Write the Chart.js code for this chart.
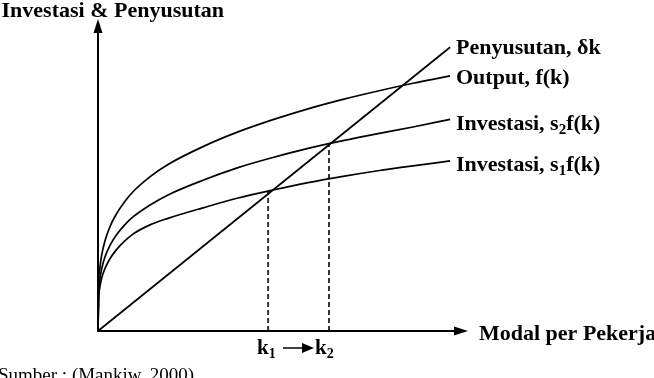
<!DOCTYPE html>
<html>
<head>
<meta charset="utf-8">
<script src="https://cdn.jsdelivr.net/npm/chart.js@4"></script>
<style>
  html, body { margin: 0; padding: 0; background: #fff; }
  canvas { display: block; }
</style>
</head>
<body>
<canvas id="grafik" width="654" height="378"></canvas>
<script>
// modal per pekerja (k) dan nilai kurva
const kVals = [0, 0.02, 0.05, 0.1, 0.2, 0.35, 0.5, 0.75, 1, 1.5, 2, 3, 4, 5, 6, 7, 8, 9, 10.06];
const outputVals = [0, 1.39, 1.77, 2.14, 2.58, 3.0, 3.30, 3.68, 3.98, 4.42, 4.76, 5.27, 5.69, 6.04, 6.35, 6.62, 6.86, 7.08, 7.29];
const invest2Vals = [0, 1.14, 1.45, 1.75, 2.12, 2.46, 2.71, 3.02, 3.26, 3.61, 3.89, 4.31, 4.67, 4.96, 5.22, 5.44, 5.64, 5.83, 6.05];
const invest1Vals = [0, 0.97, 1.23, 1.49, 1.79, 2.08, 2.29, 2.56, 2.77, 3.04, 3.22, 3.52, 3.80, 4.03, 4.24, 4.42, 4.58, 4.72, 4.86];
const kDep = [0, 10.06];
const depVals = [0, 8.11];

// kondisi mapan k1, k2
const steadyK = [4.86, 6.6];
const steadyY = [4.0, 5.3];

const yTitle = "Investasi & Penyusutan";
const xTitle = "Modal per Pekerja";
const sumber = "Sumber : (Mankiw, 2000)";
const seriesLabels = [
    [{ t: "Penyusutan, δk" }],
    [{ t: "Output, f(k)" }],
    [{ t: "Investasi, s" }, { t: "2", sub: true }, { t: "f(k)" }],
    [{ t: "Investasi, s" }, { t: "1", sub: true }, { t: "f(k)" }]
];

function pts(xs, ys) {
    return xs.map((x, i) => ({ x: x, y: ys[i] }));
}

function curve(data) {
    return {
        data: data,
        borderColor: "#000",
        borderWidth: 1.7,
        pointRadius: 0,
        cubicInterpolationMode: "monotone",
        clip: false
    };
}

function dashed(i) {
    return {
        data: [{ x: steadyK[i], y: 0 }, { x: steadyK[i], y: steadyY[i] }],
        borderColor: "#333",
        borderWidth: 2,
        borderDash: [5, 3],
        pointRadius: 0,
        clip: false
    };
}

const serif = '"Liberation Serif", "Times New Roman", serif';

function drawRuns(ctx, runs, x, y, size) {
    ctx.textBaseline = "alphabetic";
    ctx.textAlign = "left";
    runs.forEach(r => {
        if (r.sub) {
            ctx.font = "bold " + Math.round(size * 0.66) + "px " + serif;
            ctx.fillText(r.t, x, y + size * 0.2);
        } else {
            ctx.font = "bold " + size + "px " + serif;
            ctx.fillText(r.t, x, y);
        }
        x += ctx.measureText(r.t).width;
    });
    return x;
}

const annotasi = {
    id: "annotasi",
    afterDraw(chart) {
        const ctx = chart.ctx;
        const xs = chart.scales.x, ys = chart.scales.y;
        const x0 = xs.getPixelForValue(0), y0 = ys.getPixelForValue(0);
        ctx.save();
        ctx.fillStyle = "#000";
        ctx.strokeStyle = "#000";
        ctx.lineWidth = 2;

        // sumbu y dengan panah
        ctx.beginPath();
        ctx.moveTo(x0, y0);
        ctx.lineTo(x0, 30);
        ctx.stroke();
        ctx.beginPath();
        ctx.moveTo(x0, 19);
        ctx.lineTo(x0 - 4.5, 33);
        ctx.lineTo(x0 + 4.5, 33);
        ctx.closePath();
        ctx.fill();

        // sumbu x dengan panah
        ctx.beginPath();
        ctx.moveTo(x0 - 1, y0);
        ctx.lineTo(458, y0);
        ctx.stroke();
        ctx.beginPath();
        ctx.moveTo(468, y0);
        ctx.lineTo(454, y0 - 4.5);
        ctx.lineTo(454, y0 + 4.5);
        ctx.closePath();
        ctx.fill();

        // judul sumbu
        ctx.font = "bold 22px " + serif;
        ctx.textBaseline = "alphabetic";
        ctx.textAlign = "right";
        ctx.fillText(yTitle, 224, 17);
        ctx.textAlign = "left";
        ctx.fillText(xTitle, 479, 340);

        // label kurva
        const labelY = [54, 84, 129.5, 171];
        seriesLabels.forEach((runs, i) => drawRuns(ctx, runs, 456, labelY[i], 22));

        // k1 -> k2
        const ky = 354;
        drawRuns(ctx, [{ t: "k" }, { t: "1", sub: true }], 257, ky, 21);
        drawRuns(ctx, [{ t: "k" }, { t: "2", sub: true }], 315, ky, 21);
        ctx.lineWidth = 1.5;
        ctx.beginPath();
        ctx.moveTo(283, 348);
        ctx.lineTo(304, 348);
        ctx.stroke();
        ctx.beginPath();
        ctx.moveTo(314, 348);
        ctx.lineTo(302, 343);
        ctx.lineTo(302, 353);
        ctx.closePath();
        ctx.fill();

        // sumber
        ctx.font = "19px " + serif;
        ctx.textAlign = "left";
        ctx.textBaseline = "alphabetic";
        ctx.fillText(sumber, -2, 381);
        ctx.restore();
    }
};

const ctx = document.getElementById("grafik").getContext("2d");
const grafik = new Chart(ctx, {
    type: "scatter",
    data: {
        datasets: [
            Object.assign(curve(pts(kDep, depVals)), { cubicInterpolationMode: "default", tension: 0 }),
            curve(pts(kVals, outputVals)),
            curve(pts(kVals, invest2Vals)),
            curve(pts(kVals, invest1Vals)),
            dashed(0),
            dashed(1)
        ].map(d => Object.assign({ showLine: true }, d))
    },
    options: {
        responsive: false,
        animation: false,
        layout: { padding: { left: 98, right: 202.5, top: 21, bottom: 47 } },
        plugins: { legend: { display: false }, tooltip: { enabled: false } },
        scales: {
            x: { type: "linear", display: false, min: 0, max: 10.1 },
            y: { type: "linear", display: false, min: 0, max: 8.86 }
        }
    },
    plugins: [annotasi]
});
</script>
</body>
</html>
